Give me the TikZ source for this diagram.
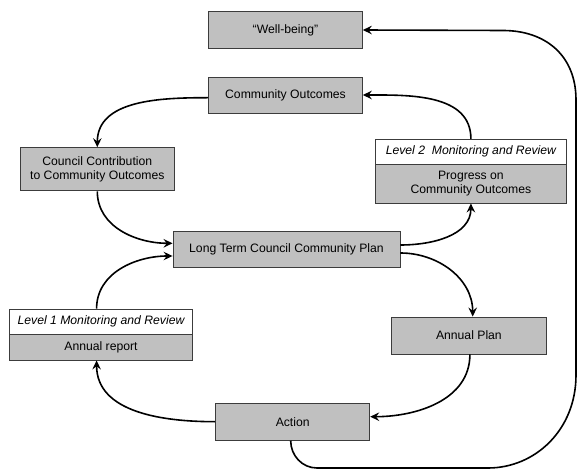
\documentclass[tikz,border=0pt]{standalone}
\usepackage{fontspec}
\setmainfont{Liberation Sans}
\usetikzlibrary{arrows.meta,calc}
\definecolor{boxfill}{HTML}{C0C0C0}
\definecolor{boxline}{HTML}{3C3C3C}
\begin{document}
\begin{tikzpicture}[x=1pt,y=-1pt,
  box/.style={draw=boxline, line width=0.9pt, fill=boxfill, inner sep=0pt, align=center, font=\fontsize{12.2}{14}\selectfont},
  hdr/.style={box, fill=white, font=\fontsize{12.2}{14}\selectfont\itshape},
  conn/.style={line width=1.6pt, -{Stealth[length=9pt,width=8.5pt,inset=3.2pt]}}]
\useasboundingbox (0,0) rectangle (578,470);

\node[box, minimum width=153.7pt, minimum height=36.6pt] (wb) at (285.5,30) {“Well-being”};
\node[box, minimum width=153.7pt, minimum height=36pt] (co) at (285.5,95.7) {Community Outcomes};
\node[box, minimum width=154pt, minimum height=43.3pt] (cc) at (97.3,169.3) {Council Contribution\\to Community Outcomes};
\node[hdr, minimum width=191.3pt, minimum height=25pt] (l2h) at (470.9,151.8) {Level 2\ \ Monitoring and Review};
\node[box, minimum width=191.3pt, minimum height=38.7pt] (l2) at (470.9,183.65) {Progress on\\Community Outcomes};
\node[box, minimum width=227pt, minimum height=36pt] (lt) at (286.5,249) {Long Term Council Community Plan};
\node[hdr, minimum width=183.6pt, minimum height=25.3pt] (l1h) at (101,321.65) {Level 1 Monitoring and Review};
\node[box, minimum width=183.6pt, minimum height=25.7pt] (l1) at (101,347.15) {Annual report};
\node[box, minimum width=154.1pt, minimum height=37pt] (ap) at (468.9,335.5) {Annual Plan};
\node[box, minimum width=154.1pt, minimum height=36.6pt] (ac) at (292.7,422) {Action};

\draw[conn] ($(co.west)+(0,2)$) to[out=180,in=90] (cc.north);
\draw[conn] (cc.south) to[out=-90,in=180] ($(lt.west)+(0,-5.7)$);
\draw[conn] ($(l1h.north)+(-4.4,0)$) to[out=90,in=180] ($(lt.west)+(0,7)$);
\draw[conn] ($(lt.east)+(0,-4)$) to[out=0,in=-90] (l2.south);
\draw[conn] ($(lt.east)+(0,4)$) to[out=0,in=90] ($(ap.north)+(3.8,0)$);
\draw[conn] (l2h.north) to[out=90,in=0] ($(co.east)+(0,-0.7)$);
\draw[conn] ($(ap.south)+(1,0)$) to[out=-90,in=0] ($(ac.east)+(0,-5.3)$);
\draw[conn] ($(ac.west)+(0,-0.3)$) to[out=180,in=-90] ($(l1.south)+(-4.4,0)$);
\coordinate (lb1) at (317,468);
\coordinate (lb2) at (488,468);
\coordinate (lr1) at (576,375);
\coordinate (lr2) at (576,100);
\coordinate (lt1) at (503,30.5);
\begin{scope}
\clip (0,0) rectangle (578,470);
\draw[conn] ($(ac.south)+(-2,0)$) to[out=-90,in=180] (lb1) -- (lb2)
  .. controls (535,468) and (576,430) .. (lr1) -- (lr2)
  .. controls (576,55) and (545,30.5) .. (lt1) -- (wb.east);
\end{scope}
\end{tikzpicture}
\end{document}
